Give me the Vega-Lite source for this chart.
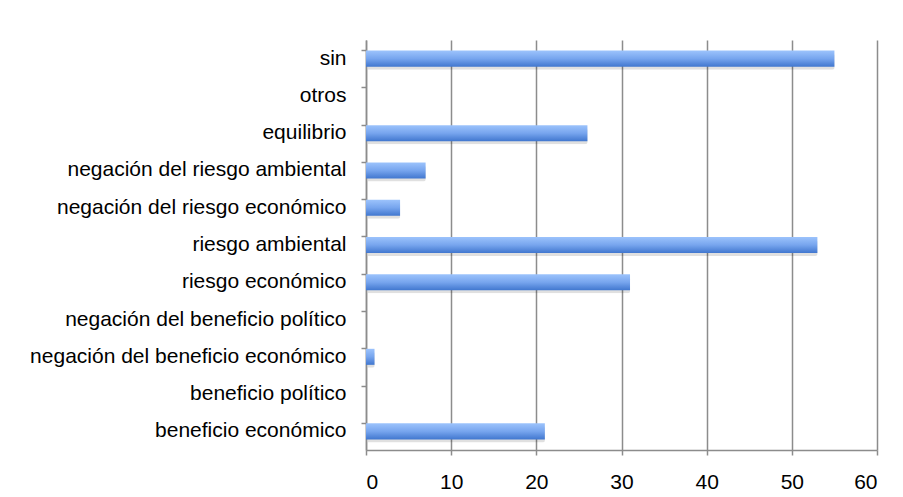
{
  "$schema": "https://vega.github.io/schema/vega-lite/v6.json",
  "autosize": {"type": "none"},
  "width": 511,
  "height": 410,
  "padding": {"left": 366, "top": 40, "right": 26, "bottom": 47},
  "background": "white",
  "data": {
    "values": [
      {"categoria": "sin", "valor": 55},
      {"categoria": "otros", "valor": 0},
      {"categoria": "equilibrio", "valor": 26},
      {"categoria": "negación del riesgo ambiental", "valor": 7},
      {"categoria": "negación del riesgo económico", "valor": 4},
      {"categoria": "riesgo ambiental", "valor": 53},
      {"categoria": "riesgo económico", "valor": 31},
      {"categoria": "negación del beneficio político", "valor": 0},
      {"categoria": "negación del beneficio económico", "valor": 1},
      {"categoria": "beneficio político", "valor": 0},
      {"categoria": "beneficio económico", "valor": 21}
    ]
  },
  "encoding": {
    "y": {
      "field": "categoria",
      "type": "nominal",
      "sort": null,
      "scale": {"paddingInner": 0.57, "paddingOuter": 0.285},
      "axis": {
        "title": null,
        "bandPosition": 0,
        "labelFont": "Liberation Sans",
        "labelFontSize": 21,
        "labelColor": "#000000",
        "labelPadding": 15,
        "tickSize": 5,
        "tickColor": "#8c8c8c",
        "tickWidth": 1.5,
        "domainColor": "#8c8c8c",
        "domainWidth": 1.5,
        "grid": false,
        "labelLimit": 400
      }
    },
    "x": {
      "field": "valor",
      "type": "quantitative",
      "scale": {"domain": [0, 60], "nice": false},
      "axis": {
        "title": null,
        "values": [0, 10, 20, 30, 40, 50, 60],
        "labelFont": "Liberation Sans",
        "labelFontSize": 21,
        "labelColor": "#000000",
        "labelPadding": 16,
        "tickSize": 5,
        "tickColor": "#8c8c8c",
        "tickWidth": 1.5,
        "domainColor": "#8c8c8c",
        "domainWidth": 1.5,
        "grid": true,
        "gridColor": "#8c8c8c",
        "gridWidth": 1.5
      }
    }
  },
  "layer": [
    {
      "mark": {"type": "bar", "color": "#000000", "opacity": 0.12, "xOffset": 2, "yOffset": 3, "cornerRadius": 2},
      "encoding": {}
    },
    {
      "mark": {
        "type": "bar",
        "color": {
          "gradient": "linear",
          "x1": 0, "y1": 0, "x2": 0, "y2": 1,
          "stops": [
            {"offset": 0, "color": "#9cc3fc"},
            {"offset": 0.5, "color": "#77a5ee"},
            {"offset": 1, "color": "#4177cf"}
          ]
        }
      },
      "encoding": {}
    }
  ],
  "config": {
    "view": {"stroke": null},
    "axis": {"labelFont": "Liberation Sans"}
  }
}
